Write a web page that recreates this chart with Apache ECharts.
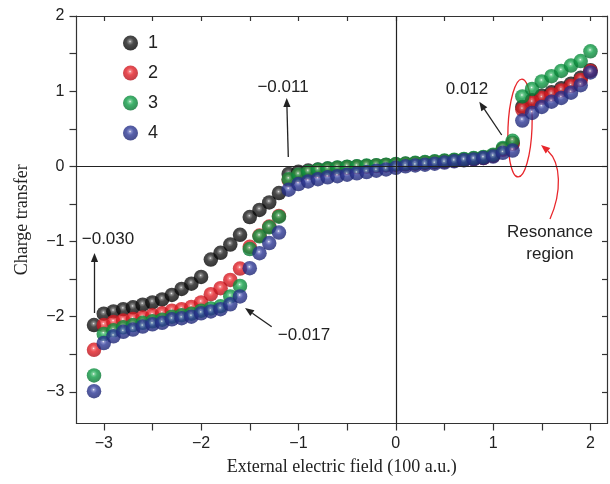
<!DOCTYPE html>
<html>
<head>
<meta charset="utf-8">
<script src="https://cdn.jsdelivr.net/npm/echarts@6.0.0/dist/echarts.min.js"></script>
<style>
  html, body { margin: 0; padding: 0; background: #fff; }
  #chart { width: 610px; height: 484px; }
</style>
</head>
<body>
<div id="chart"></div>
<script>
// external field (100 a.u.)
var fieldValues = [
    -3.1, -3.0, -2.9, -2.8, -2.7, -2.6, -2.5, -2.4, -2.3, -2.2, -2.1, -2.0,
    -1.9, -1.8, -1.7, -1.6, -1.5, -1.4, -1.3, -1.2, -1.1, -1.0,
    -0.9, -0.8, -0.7, -0.6, -0.5, -0.4, -0.3, -0.2, -0.1,
    0.0, 0.1, 0.2, 0.3, 0.4, 0.5, 0.6, 0.7, 0.8, 0.9, 1.0, 1.1, 1.2,
    1.3, 1.4, 1.5, 1.6, 1.7, 1.8, 1.9, 2.0
];

// charge transfer, one array per case
var charge1 = [
    -2.11, -1.96, -1.93, -1.90, -1.875, -1.84, -1.81, -1.77, -1.71, -1.63, -1.56, -1.47,
    -1.24, -1.15, -1.04, -0.91, -0.675, -0.58, -0.48, -0.355, -0.10, -0.07,
    -0.055, -0.042, -0.03, -0.02, -0.01, -0.003, 0.005, 0.012, 0.019,
    0.026, 0.034, 0.043, 0.052, 0.062, 0.072, 0.082, 0.093, 0.104, 0.118, 0.145, 0.23, 0.31,
    0.79, 0.88, 0.94, 0.985, 1.04, 1.10, 1.18, 1.28
];
var charge2 = [
    -2.44, -2.11, -2.07, -2.05, -2.03, -2.01, -1.98, -1.955, -1.92, -1.90, -1.87, -1.81,
    -1.70, -1.62, -1.51, -1.36, -1.07, -0.92, -0.80, -0.66, -0.18, -0.12,
    -0.085, -0.06, -0.045, -0.03, -0.02, -0.012, -0.004, 0.004, 0.012,
    0.02, 0.028, 0.036, 0.045, 0.055, 0.064, 0.075, 0.085, 0.097, 0.11, 0.14, 0.22, 0.30,
    0.755, 0.85, 0.91, 0.955, 1.01, 1.07, 1.15, 1.27
];
var charge3 = [
    -2.78, -2.23, -2.18, -2.14, -2.11, -2.08, -2.06, -2.04, -2.0, -1.98, -1.96, -1.92,
    -1.89, -1.86, -1.73, -1.59, -1.10, -0.93, -0.81, -0.67, -0.17, -0.11,
    -0.07, -0.045, -0.03, -0.015, -0.005, 0.0, 0.01, 0.015, 0.022,
    0.03, 0.038, 0.047, 0.057, 0.067, 0.077, 0.088, 0.098, 0.11, 0.125, 0.155, 0.245, 0.34,
    0.93, 1.03, 1.13, 1.20, 1.27, 1.34, 1.40, 1.53
];
var charge4 = [
    -2.99, -2.35, -2.26, -2.20, -2.17, -2.13, -2.10, -2.08, -2.035, -2.02, -2.0, -1.955,
    -1.93, -1.90, -1.835, -1.73, -1.355, -1.155, -1.02, -0.88, -0.31, -0.235,
    -0.20, -0.17, -0.145, -0.13, -0.11, -0.093, -0.075, -0.057, -0.04,
    -0.02, 0.0, 0.013, 0.023, 0.036, 0.05, 0.067, 0.08, 0.093, 0.11, 0.13, 0.18, 0.21,
    0.61, 0.71, 0.79, 0.86, 0.91, 0.98, 1.08, 1.25
];

var seriesNames = ['1', '2', '3', '4'];

// ticks
var xTickValues = [-3, -2.5, -2, -1.5, -1, -0.5, 0, 0.5, 1, 1.5, 2];
var xLabelValues = [-3, -2, -1, 0, 1, 2];
var yTickValues = [-3, -2.5, -2, -1.5, -1, -0.5, 0, 0.5, 1, 1.5, 2];
var yLabelValues = [-3, -2, -1, 0, 1, 2];

// 球形渐变
function sphere(hi, mid, base, dark) {
    return {
        type: 'radial', x: 0.47, y: 0.4, r: 0.6,
        colorStops: [
            { offset: 0, color: hi },
            { offset: 0.14, color: mid },
            { offset: 0.4, color: base },
            { offset: 1, color: dark }
        ]
    };
}

var colors = [
    sphere('#e0e0e0', '#6a6a6a', '#1e1e1e', '#000000'),
    sphere('#ffffff', '#f26468', '#e41f26', '#b0101a'),
    sphere('#ffffff', '#5cc482', '#0f9e46', '#06702f'),
    sphere('#ffffff', '#7078c0', '#2e3996', '#1a2270')
];

function pairs(ys) {
    var out = [];
    for (var i = 0; i < fieldValues.length; i++) {
        out.push([fieldValues[i], ys[i]]);
    }
    return out;
}

function minus(v) {
    return String(v).replace('-', '\u2212');
}

// 箭头 (line + filled head)
function arrow(x1, y1, x2, y2, color) {
    var ang = Math.atan2(y2 - y1, x2 - x1);
    var L = 9, W = 3.6;
    var bx = x2 - L * Math.cos(ang), by = y2 - L * Math.sin(ang);
    return [{
        type: 'line',
        shape: { x1: x1, y1: y1, x2: bx, y2: by },
        style: { stroke: color, lineWidth: 1.3 }
    }, {
        type: 'polygon',
        shape: { points: [[x2, y2], [bx + W * Math.sin(ang), by - W * Math.cos(ang)], [bx - W * Math.sin(ang), by + W * Math.cos(ang)]] },
        style: { fill: color }
    }];
}

function label(text, x, y, color) {
    return {
        type: 'text', x: x, y: y,
        style: {
            text: text, fill: color || '#222', align: 'center', verticalAlign: 'middle',
            font: '17px "Liberation Sans", Arial, sans-serif'
        }
    };
}

var graphics = []
    .concat(arrow(288.3, 157, 286.7, 98, '#222'))
    .concat(arrow(94.5, 313, 94.5, 253, '#222'))
    .concat(arrow(271.7, 326.7, 245, 308, '#222'))
    .concat(arrow(501.7, 135, 479.3, 101.7, '#222'))
    .concat([
        label('\u22120.011', 283, 87),
        label('\u22120.030', 108, 239),
        label('\u22120.017', 304, 335),
        label('0.012', 467, 89),
        label('Resonance', 550, 232),
        label('region', 550, 254),
        {
            type: 'ellipse',
            shape: { cx: 520, cy: 128, rx: 12, ry: 49 },
            rotation: -0.04, originX: 520, originY: 128,
            style: { fill: 'none', stroke: '#e8262b', lineWidth: 1.3 }
        },
        {
            type: 'bezierCurve',
            shape: { x1: 550, y1: 219, cpx1: 562, cpy1: 192, cpx2: 561, cpy2: 163, x2: 548, y2: 151 },
            style: { fill: 'none', stroke: '#e8262b', lineWidth: 1.3 }
        }
    ])
    .concat(arrow(552, 154, 541, 145, '#e8262b').slice(1));

var axisLineStyle = { color: '#333', width: 1.2 };
var labelFont = { color: '#222', fontSize: 16, fontFamily: '"Liberation Sans", Arial, sans-serif' };

var option = {
    animation: false,
    backgroundColor: '#fff',
    grid: { left: 76.5, right: 3, top: 16, bottom: 60.5 },
    legend: {
        orient: 'vertical',
        left: 123,
        top: 34,
        padding: 0,
        itemWidth: 25,
        itemHeight: 15,
        itemGap: 12,
        icon: 'circle',
        selectedMode: false,
        textStyle: { color: '#222', fontSize: 18, fontFamily: '"Liberation Sans", Arial, sans-serif' },
        data: seriesNames
    },
    xAxis: [{
        type: 'value',
        min: -3.28,
        max: 2.17,
        position: 'bottom',
        name: 'External electric field (100 a.u.)',
        nameLocation: 'middle',
        nameGap: 35,
        nameTextStyle: { color: '#222', fontSize: 18, fontFamily: '"Liberation Serif", "Times New Roman", serif' },
        axisLine: { show: true, onZero: false, lineStyle: axisLineStyle },
        axisTick: { show: true, inside: false, length: 7, lineStyle: axisLineStyle, customValues: xTickValues },
        axisLabel: Object.assign({ margin: 12, customValues: xLabelValues, formatter: minus }, labelFont),
        splitLine: { show: false }
    }, {
        type: 'value',
        min: -3.28,
        max: 2.17,
        position: 'top',
        axisLine: { show: true, onZero: false, lineStyle: axisLineStyle },
        axisTick: { show: true, inside: true, length: 5, lineStyle: axisLineStyle, customValues: xTickValues },
        axisLabel: { show: false },
        splitLine: { show: false }
    }],
    yAxis: [{
        type: 'value',
        min: -3.42,
        max: 2,
        position: 'left',
        name: 'Charge transfer',
        nameLocation: 'middle',
        nameGap: 45,
        nameTextStyle: { color: '#222', fontSize: 18, fontFamily: '"Liberation Serif", "Times New Roman", serif' },
        axisLine: { show: true, onZero: false, lineStyle: axisLineStyle },
        axisTick: { show: true, inside: false, length: 7, lineStyle: axisLineStyle, customValues: yTickValues },
        axisLabel: Object.assign({ margin: 12, customValues: yLabelValues, formatter: minus }, labelFont),
        splitLine: { show: false }
    }, {
        type: 'value',
        min: -3.42,
        max: 2,
        position: 'right',
        axisLine: { show: true, onZero: false, lineStyle: axisLineStyle },
        axisTick: { show: true, inside: true, length: 5, lineStyle: axisLineStyle, customValues: yTickValues },
        axisLabel: { show: false },
        splitLine: { show: false }
    }],
    series: [charge1, charge2, charge3, charge4].map(function (ys, i) {
        var s = {
            name: seriesNames[i],
            type: 'scatter',
            xAxisIndex: 0,
            yAxisIndex: 0,
            symbol: 'circle',
            symbolSize: 14.5,
            itemStyle: { color: colors[i] },
            emphasis: { disabled: true },
            data: pairs(ys)
        };
        if (i === 0) {
            // 坐标零线
            s.markLine = {
                silent: true,
                symbol: 'none',
                label: { show: false },
                lineStyle: { color: '#222', width: 1.2, type: 'solid' },
                data: [{ xAxis: 0 }, { yAxis: 0 }]
            };
        }
        return s;
    }),
    graphic: graphics
};

var my_chart = echarts.init(document.getElementById('chart'), null, { renderer: 'canvas' });
my_chart.setOption(option);
</script>
</body>
</html>
